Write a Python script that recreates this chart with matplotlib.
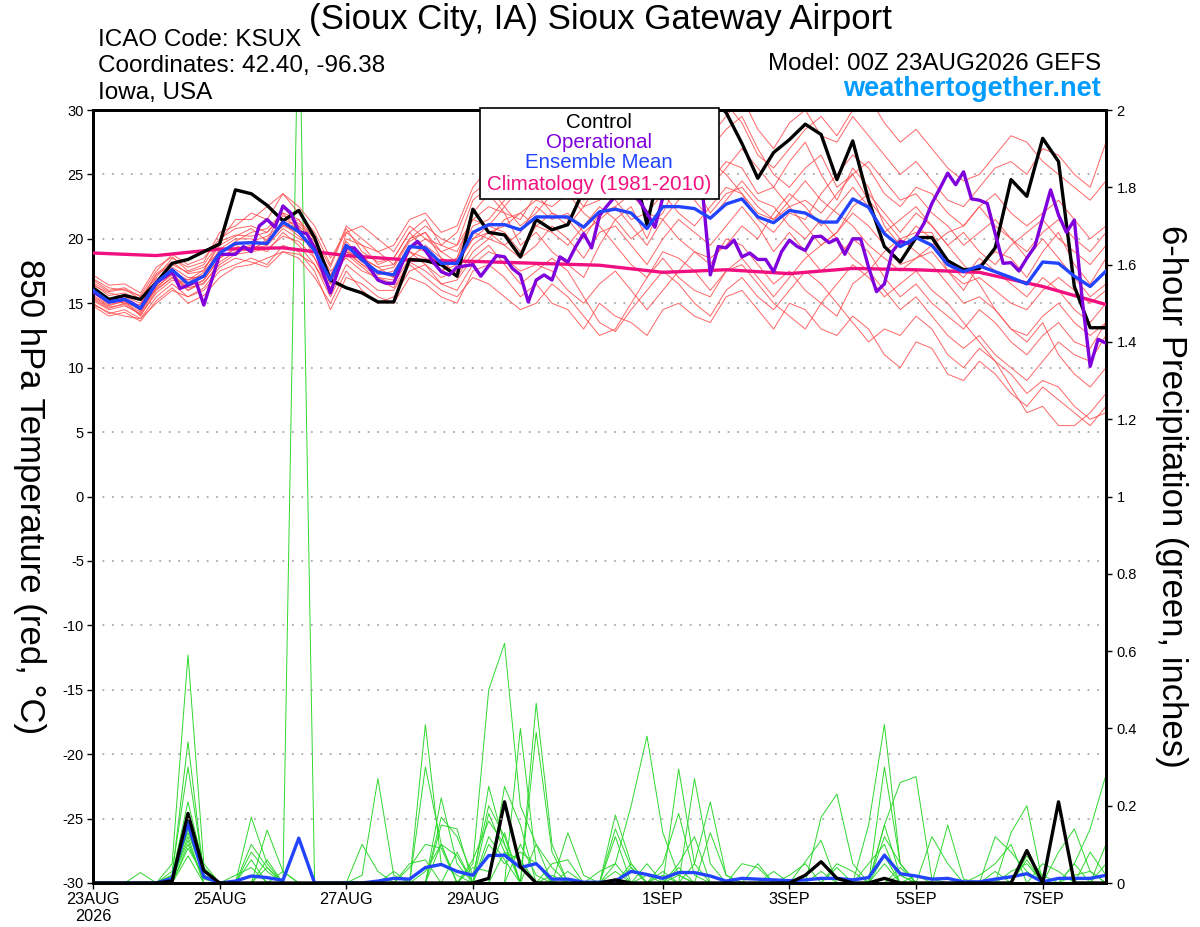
import numpy as np
import matplotlib
matplotlib.use("Agg")
import matplotlib.pyplot as plt
from matplotlib.patches import Rectangle

plt.rcParams['font.family'] = ['Liberation Sans', 'DejaVu Sans']
plt.rcParams['axes.unicode_minus'] = False

# ---------------- DATA ----------------
xtick_hours = [0, 48, 96, 144, 216, 264, 312, 360]
xtick_labels = ["23AUG\n2026", "25AUG", "27AUG", "29AUG", "1SEP", "3SEP", "5SEP", "7SEP"]

# 850 hPa temperature (C), 6-hourly
control_t = [16.2, 15.3, 15.6, 15.3, 16.6, 18.1, 18.4, 19.0, 19.6, 23.8,
             23.5, 22.6, 21.4, 22.2, 20.1, 16.8, 16.2, 15.8, 15.1, 15.1,
             18.4, 18.3, 18.0, 17.1, 22.3, 20.5, 20.3, 18.6, 21.5, 20.7,
             21.1, 23.8, 25.5, 26.0, 26.3, 21.1, 26.5, 28.5, 30.5, 31.0,
             29.8, 27.4, 24.7, 26.7, 27.7, 28.9, 28.1, 24.6, 27.6, 23.0,
             19.4, 18.2, 20.1, 20.1, 18.3, 17.6, 17.7, 19.3, 24.6, 23.3,
             27.8, 26.0, 16.3, 13.1, 13.1]

mean_t = [16.0, 15.1, 15.3, 14.6, 16.6, 17.6, 16.5, 17.1, 18.9, 19.65,
          19.7, 19.65, 21.3, 20.55, 19.1, 16.8, 19.5, 18.35, 17.4, 17.2,
          19.4, 19.3, 18.1, 18.1, 20.5, 21.1, 21.1, 20.7, 21.7, 21.7,
          21.7, 20.9, 22.1, 22.3, 22.0, 20.8, 22.5, 22.5, 22.35, 21.6,
          22.7, 23.1, 21.7, 21.25, 22.2, 22.0, 21.3, 21.3, 23.1, 22.45,
          20.4, 19.4, 20.1, 19.5, 18.0, 17.45, 17.9, 17.45, 17.0, 16.5,
          18.2, 18.1, 17.1, 16.3, 17.5]

# operational run, 3-hourly
oper_t = [15.9, 15.5, 15.1, 15.2, 15.3, 15.0, 14.6, 15.6, 16.6, 17.0,
          17.45, 16.15, 16.4, 16.7, 14.86, 16.8, 18.8, 18.8, 18.8, 19.4,
          19.0, 21.0, 21.5, 20.9, 22.55, 22.0, 20.55, 20.4, 19.3, 17.5,
          15.8, 17.6, 19.3, 19.3, 18.6, 17.7, 16.8, 16.55, 16.55, 18.0,
          19.3, 19.8, 19.1, 18.2, 17.45, 17.2, 17.8, 17.9, 18.0, 17.1,
          17.9, 18.7, 18.6, 17.7, 17.2, 15.1, 16.8, 17.2, 16.8, 18.6,
          18.2, 19.4, 20.4, 19.3, 21.8, 22.6, 23.3, 23.8, 23.5, 23.0,
          22.0, 20.9, 23.2, 23.8, 24.2, 23.6, 24.3, 23.8, 17.2, 19.4,
          19.3, 19.9, 18.6, 18.9, 18.4, 18.4, 17.45, 19.0, 19.9, 19.4,
          19.1, 20.16, 20.2, 19.7, 20.0, 18.8, 20.0, 20.0, 17.8, 15.9,
          16.5, 19.0, 19.8, 19.65, 20.16, 21.2, 22.75, 23.9, 25.1, 24.2,
          25.2, 23.1, 23.0, 22.75, 20.4, 18.1, 18.15, 17.5, 18.5, 19.4,
          21.6, 23.8, 21.85, 20.5, 21.46, 15.25, 10.1, 12.2, 11.9]

# climatology (1981-2010), daily
clim_t = [18.9, 18.7, 19.2, 19.3, 18.7, 18.35, 18.25, 18.1, 17.95, 17.4,
          17.6, 17.3, 17.7, 17.6, 17.4, 16.3, 14.9]

member_a = [16.8, 16.0, 16.2, 15.5, 17.0, 18.5, 17.8, 18.2, 20.5, 21.0,
            22.0, 21.5, 23.5, 22.0, 20.5, 18.0, 21.0, 20.0, 19.0, 19.5,
            21.5, 22.0, 20.5, 21.0, 24.0, 25.5, 24.0, 23.0, 25.0, 26.0,
            27.0, 25.5, 26.5, 28.0, 27.0, 25.0, 27.5, 29.0, 30.5, 28.0,
            29.5, 31.0, 28.5, 27.0, 29.0, 30.0, 28.0, 27.5, 29.5, 28.0,
            26.5, 25.0, 26.0, 24.5, 23.0, 22.5, 24.0, 25.5, 26.0, 25.0,
            27.0, 26.5, 25.0, 24.0, 27.5]
member_b = [15.0, 14.2, 14.5, 13.8, 15.5, 16.5, 15.5, 16.0, 17.5, 18.0,
            18.5, 18.0, 19.5, 19.0, 17.5, 14.5, 17.0, 16.5, 15.5, 15.0,
            17.0, 16.5, 15.5, 15.0, 17.5, 18.0, 17.0, 15.5, 16.5, 15.0,
            14.5, 13.0, 15.0, 14.0, 13.5, 12.5, 14.5, 15.0, 14.0, 13.5,
            15.5, 16.0, 14.5, 13.0, 15.0, 14.5, 13.0, 12.5, 14.0, 13.0,
            11.0, 10.0, 12.0, 11.5, 9.5, 9.0, 10.5, 9.5, 8.0, 7.0,
            8.5, 7.5, 6.5, 5.5, 7.0]
member_c = [16.2, 15.4, 15.0, 14.9, 16.9, 17.2, 16.8, 17.6, 19.5, 20.2,
            20.8, 19.8, 22.5, 21.0, 18.5, 15.8, 20.5, 19.5, 18.0, 18.5,
            20.5, 19.0, 17.5, 18.5, 22.0, 23.5, 22.0, 19.5, 20.5, 19.0,
            18.0, 17.0, 19.5, 21.5, 22.5, 20.0, 23.0, 25.0, 26.5, 24.0,
            25.5, 27.0, 25.5, 24.0, 26.0, 27.5, 25.0, 23.0, 25.5, 24.0,
            21.0, 19.5, 21.0, 20.0, 17.5, 16.0, 18.0, 19.0, 18.5, 17.0,
            19.0, 20.5, 18.0, 16.5, 18.5]
member_d = [15.5, 14.8, 15.2, 14.0, 16.0, 17.0, 16.2, 16.5, 18.2, 19.0,
            19.2, 19.5, 20.8, 20.0, 19.5, 17.5, 18.5, 17.5, 17.0, 16.5,
            18.5, 19.5, 18.5, 17.0, 19.0, 20.0, 21.5, 22.0, 23.0, 22.5,
            23.5, 22.0, 21.0, 19.5, 18.0, 17.0, 19.0, 18.5, 17.5, 16.0,
            17.5, 18.5, 17.0, 15.5, 17.0, 18.5, 19.5, 20.5, 22.5, 23.5,
            22.0, 20.5, 22.0, 21.0, 19.5, 18.0, 16.5, 14.5, 13.0, 12.0,
            13.5, 11.0, 9.5, 8.5, 10.0]
member_e = [16.5, 15.6, 15.8, 15.2, 17.2, 18.0, 17.4, 17.8, 19.0, 19.5,
            19.0, 20.0, 21.0, 21.5, 20.0, 17.0, 19.0, 18.0, 17.5, 17.8,
            19.8, 20.5, 19.0, 19.5, 21.5, 21.0, 22.5, 24.0, 25.0, 24.0,
            25.5, 26.5, 27.0, 26.0, 24.5, 23.0, 25.5, 26.5, 25.0, 24.5,
            26.0, 25.5, 23.5, 24.0, 22.5, 21.0, 19.5, 20.5, 22.0, 21.0,
            19.5, 18.0, 18.5, 19.5, 20.5, 21.0, 22.5, 23.5, 22.0, 21.0,
            22.0, 23.0, 21.5, 20.0, 21.0]
member_f = [14.8, 14.0, 14.3, 13.6, 15.2, 16.2, 15.0, 15.6, 17.0, 17.8,
            18.0, 18.5, 19.0, 18.5, 17.0, 15.0, 17.5, 16.0, 15.0, 15.5,
            17.5, 18.0, 16.5, 16.0, 18.0, 19.0, 18.5, 17.5, 18.0, 17.5,
            16.0, 15.0, 16.5, 17.5, 16.0, 14.5, 16.0, 17.5, 19.0, 18.0,
            20.0, 19.5, 18.0, 16.5, 17.5, 16.0, 15.0, 14.0, 16.5, 17.5,
            16.0, 14.5, 15.5, 14.0, 12.5, 11.5, 12.5, 11.0, 10.0, 9.0,
            10.5, 12.0, 11.0, 10.5, 12.5]
member_g = [16.9, 16.2, 16.0, 15.6, 17.5, 18.8, 18.0, 18.5, 20.0, 20.8,
            21.0, 20.5, 22.0, 21.5, 19.5, 16.5, 20.0, 19.5, 19.0, 18.0,
            20.0, 21.0, 20.0, 19.5, 23.0, 24.0, 22.5, 21.0, 22.0, 23.5,
            24.5, 23.0, 24.0, 25.5, 26.5, 24.5, 26.0, 27.5, 28.5, 27.0,
            28.5, 29.5, 27.0, 25.0, 24.0, 25.5, 26.5, 24.0, 25.0, 26.0,
            24.5, 23.0, 23.5, 22.0, 21.0, 19.5, 20.5, 21.5, 20.0, 18.5,
            20.0, 18.5, 17.0, 15.5, 16.5]
member_h = [15.2, 14.5, 14.8, 14.2, 16.2, 17.3, 16.0, 16.8, 18.5, 19.2,
            19.5, 19.0, 20.5, 19.5, 18.0, 16.0, 19.0, 18.5, 17.8, 17.0,
            19.0, 18.0, 17.0, 17.5, 19.5, 20.5, 19.5, 18.5, 19.5, 21.0,
            20.0, 18.5, 20.5, 21.0, 19.5, 18.0, 20.0, 21.5, 20.5, 19.5,
            21.0, 22.5, 21.0, 19.0, 20.5, 19.0, 17.5, 18.5, 20.0, 19.0,
            17.0, 15.5, 16.5, 15.0, 14.0, 13.0, 14.5, 13.5, 12.0, 11.0,
            12.5, 13.5, 12.0, 11.5, 13.5]
member_i = [16.4, 15.8, 15.5, 15.0, 16.5, 17.8, 17.0, 17.0, 18.8, 19.8,
            20.5, 20.8, 22.0, 20.5, 19.0, 16.8, 19.5, 18.8, 17.2, 17.5,
            19.5, 19.0, 18.0, 18.5, 21.0, 21.5, 23.0, 24.5, 23.5, 22.0,
            21.0, 22.5, 24.5, 23.0, 21.5, 22.0, 23.5, 22.0, 21.0, 22.5,
            24.0, 23.5, 22.0, 21.5, 23.0, 24.5, 23.0, 22.0, 21.0, 19.5,
            18.5, 17.5, 18.5, 19.0, 17.5, 16.5, 17.0, 16.0, 15.0, 14.5,
            16.0, 17.0, 16.0, 15.0, 16.0]
member_j = [15.8, 15.0, 15.4, 14.4, 16.4, 17.5, 16.8, 17.2, 19.2, 20.0,
            20.0, 19.5, 21.5, 21.0, 19.8, 17.2, 19.8, 18.5, 17.8, 18.0,
            20.0, 20.5, 18.5, 18.0, 20.5, 20.0, 19.5, 20.5, 22.5, 21.5,
            22.0, 20.5, 21.5, 22.5, 23.5, 22.0, 21.5, 20.0, 19.0, 18.5,
            19.5, 21.0, 20.0, 22.0, 23.5, 22.5, 21.0, 22.5, 24.0, 22.5,
            20.5, 21.5, 22.5, 21.0, 19.5, 20.5, 19.0, 18.0, 19.5, 20.5,
            21.5, 20.0, 19.0, 18.0, 19.5]
member_k = [15.3, 14.6, 15.0, 14.3, 16.3, 17.2, 16.3, 16.8, 18.5, 19.3,
            19.2, 19.8, 21.0, 20.5, 19.0, 16.5, 19.0, 18.0, 17.0, 16.8,
            19.0, 18.5, 17.5, 18.0, 20.0, 21.0, 20.5, 19.0, 21.0, 22.0,
            21.5, 20.0, 22.0, 22.5, 21.0, 19.5, 21.5, 23.0, 24.0, 22.0,
            23.5, 24.0, 22.5, 21.5, 22.5, 23.0, 22.0, 23.5, 25.0, 23.0,
            21.5, 20.0, 20.5, 20.5, 18.0, 17.0, 18.5, 17.5, 16.5, 15.5,
            17.0, 16.0, 14.5, 13.5, 15.0]
member_l = [15.6, 14.9, 15.1, 14.5, 16.1, 17.0, 16.0, 16.6, 18.0, 18.8,
            19.0, 19.2, 20.2, 19.8, 18.5, 16.2, 18.8, 17.8, 16.8, 16.2,
            18.2, 17.5, 16.5, 16.8, 18.5, 19.5, 18.0, 16.5, 17.5, 18.5,
            17.5, 15.5, 13.5, 12.8, 14.5, 16.0, 17.5, 16.5, 15.0, 14.0,
            16.0, 17.0, 15.5, 14.5, 16.0, 17.5, 16.5, 15.0, 13.5, 12.0,
            13.0, 12.5, 14.0, 13.0, 11.0, 10.0, 11.5, 10.5, 8.5, 6.5,
            7.0, 5.5, 5.5, 6.5, 8.0]
member_m = [17.2, 16.4, 16.5, 15.8, 17.8, 18.6, 17.5, 18.0, 19.8, 21.5,
            21.5, 22.5, 23.5, 22.5, 21.0, 18.5, 20.5, 21.0, 20.0, 19.0,
            21.0, 20.0, 19.5, 20.5, 23.5, 24.5, 25.5, 26.5, 27.5, 26.0,
            28.0, 27.5, 28.5, 29.5, 28.0, 26.5, 28.5, 30.5, 31.0, 29.5,
            30.5, 29.0, 26.5, 25.5, 27.0, 28.5, 29.5, 28.0, 30.0, 31.0,
            29.0, 27.5, 28.5, 27.0, 25.5, 24.5, 25.0, 26.5, 28.0, 27.5,
            26.0, 25.0, 24.0, 23.0, 24.5]
member_n = [14.9, 14.3, 14.0, 13.8, 15.0, 16.0, 15.5, 16.2, 17.8, 18.5,
            18.2, 17.8, 19.0, 18.8, 18.0, 15.5, 18.0, 17.0, 16.0, 16.0,
            18.0, 17.0, 16.0, 15.5, 17.0, 16.5, 15.5, 14.5, 15.0, 16.5,
            15.5, 14.0, 12.5, 13.0, 15.0, 17.0, 18.5, 17.0, 16.0, 15.5,
            17.5, 18.0, 16.5, 15.0, 14.0, 13.0, 15.0, 16.5, 18.0, 17.0,
            15.5, 16.5, 17.5, 16.0, 15.0, 13.5, 12.0, 10.5, 9.5, 8.0,
            9.0, 8.5, 7.0, 6.0, 6.5]
member_o = [16.6, 15.9, 16.1, 15.3, 17.3, 18.2, 17.3, 17.5, 19.8, 20.3,
            20.2, 20.5, 21.8, 21.2, 20.0, 17.8, 20.8, 19.0, 18.2, 18.5,
            20.5, 21.5, 19.5, 19.0, 21.5, 22.5, 22.0, 21.5, 23.5, 25.0,
            24.0, 22.5, 23.0, 24.5, 25.5, 24.0, 25.0, 24.0, 23.0, 21.5,
            23.0, 24.5, 23.0, 22.5, 21.0, 20.0, 21.5, 20.0, 18.5, 17.5,
            19.0, 20.0, 19.0, 18.0, 16.5, 15.0, 15.5, 14.5, 13.0, 12.5,
            14.0, 15.0, 13.5, 12.5, 13.5]
member_p = [15.4, 14.7, 14.9, 14.1, 15.8, 16.8, 16.6, 17.4, 19.0, 19.6,
            19.8, 20.2, 21.2, 20.2, 19.2, 17.0, 19.2, 18.2, 17.5, 17.0,
            19.2, 20.0, 19.0, 18.2, 20.0, 20.5, 21.0, 22.0, 21.0, 20.5,
            19.5, 21.0, 22.5, 21.5, 20.0, 21.0, 22.0, 24.5, 25.5, 26.0,
            25.0, 23.5, 21.5, 20.5, 22.0, 21.5, 23.5, 25.0, 26.5, 25.5,
            23.5, 22.5, 24.0, 23.5, 22.0, 21.0, 22.5, 21.0, 20.0, 19.0,
            20.5, 21.5, 20.0, 19.0, 20.5]
temp_members = [member_a, member_b, member_c, member_d, member_e, member_f,
                member_g, member_h, member_i, member_j, member_k, member_l,
                member_m, member_n, member_o, member_p]

# 6-hour precipitation (inches)
control_p = [0, 0, 0, 0, 0, .005, .18, .032, 0, 0,
             0, 0, 0, 0, 0, 0, 0, 0, 0, 0,
             0, 0, 0, 0, 0, .012, .21, .042, 0, 0,
             0, 0, 0, .008, 0, 0, 0, 0, 0, 0,
             0, 0, 0, 0, 0, .02, .055, .012, 0, 0,
             .012, 0, 0, 0, 0, 0, 0, 0, 0, .084,
             0, .21, 0, 0, 0]
mean_p = [0, 0, 0, 0, 0, .012, .155, .016, 0, .005,
          .018, .014, .007, .116, 0, 0, 0, 0, .005, .012,
          .01, .04, .048, .03, .02, .071, .072, .04, .05, .01,
          .01, .002, .002, .005, .03, .022, .012, .027, .027, .018,
          .005, .012, .01, .008, .006, .008, .012, .012, .008, .014,
          .072, .024, .018, .01, .012, .003, .003, .01, .016, .024,
          .003, .012, .012, .012, .02]

precip_g1 = [0, 0, 0, 0, 0, .05, .59, .05, 0, 0,
             0, 0, 0, 0, 0, 0, 0, .02, .27, .02,
             0, 0, 0, 0, .05, .5, .62, .2, .1, 0,
             0, 0, 0, .05, .2, .38, .13, .02, 0, 0,
             0, 0, 0, 0, 0, 0, 0, 0, 0, .15,
             .41, .05, 0, 0, 0, 0, 0, 0, 0, 0,
             0, 0, .05, .14, .28]
precip_g2 = [0, 0, 0, 0, 0, .02, .365, .02, 0, 0,
             .17, .05, 0, 0, 0, 0, 0, 0, 0, 0,
             0, .41, .05, .02, 0, 0, 0, .4, .05, 0,
             0, 0, 0, 0, 0, 0, 0, .295, .05, .21,
             .02, 0, 0, 0, 0, 0, 0, 0, 0, 0,
             .15, .26, .275, .01, 0, 0, 0, 0, .13, .2,
             0, 0, 0, 0, 0]
precip_g3 = [0, 0, 0, 0, 0, .03, .3, .03, 0, 0,
             0, 0, 0, 2.35, 0, 0, 0, 0, 0, 0,
             0, .3, .1, 0, 0, 0, .25, .15, 0, 0,
             0, 0, 0, 0, 0, 0, 0, 0, .27, .05,
             0, 0, 0, 0, 0, 0, .17, .23, .05, 0,
             .3, .05, 0, .12, .05, 0, 0, 0, 0, 0,
             0, 0, 0, 0, 0]
precip_g4 = [0, 0, 0, 0, 0, .02, .21, .04, 0, 0,
             0, .137, .03, 0, 0, 0, 0, 0, 0, 0,
             0, 0, .22, .05, 0, .25, .1, 0, .465, .1,
             0, 0, 0, .176, .05, 0, .05, .18, .02, 0,
             0, 0, 0, 0, 0, 0, 0, 0, 0, 0,
             .15, .02, 0, 0, 0, 0, 0, .12, .08, .03,
             0, .08, .14, .03, 0]
precip_g5 = [0, 0, 0, 0, 0, 0, .16, .03, 0, 0,
             .06, 0, 0, 0, 0, 0, 0, 0, 0, 0,
             0, 0, .17, .12, .02, .2, .12, 0, .39, .08,
             0, 0, 0, .14, .04, 0, 0, 0, 0, .13,
             .02, 0, 0, 0, 0, .055, .11, 0, 0, 0,
             0, 0, 0, 0, .15, .01, 0, 0, 0, .08,
             0, 0, 0, 0, .1]
precip_g6 = [0, 0, 0, 0, 0, 0, .14, .02, 0, 0,
             .08, .03, 0, 0, 0, 0, 0, .1, .03, 0,
             0, 0, .15, .14, 0, .18, .08, .06, 0, 0,
             .13, .02, 0, .12, 0, .05, 0, .05, .12, 0,
             0, 0, .05, 0, 0, 0, 0, 0, 0, .05,
             .1, 0, 0, 0, 0, 0, .02, .05, .1, 0,
             0, 0, 0, 0, 0]
precip_g7 = [0, 0, 0, .027, 0, .02, .13, .02, 0, 0,
             0, 0, .03, 0, 0, 0, 0, 0, 0, 0,
             .05, .06, 0, 0, .06, .16, .1, 0, 0, .05,
             .06, 0, 0, 0, .05, 0, .03, 0, 0, 0,
             0, .05, .04, 0, 0, 0, 0, .05, .03, 0,
             .05, 0, 0, 0, 0, 0, 0, 0, 0, 0,
             .05, .03, 0, 0, 0]
precip_g8 = [0, 0, 0, 0, 0, .01, .11, 0, 0, 0,
             .1, .04, 0, 0, 0, 0, 0, 0, 0, 0,
             .04, .1, .09, 0, 0, .12, .06, 0, .1, .04,
             0, 0, .03, .05, 0, 0, 0, .04, 0, 0,
             0, 0, 0, .03, 0, 0, 0, 0, 0, 0,
             .12, .05, 0, 0, 0, 0, 0, 0, 0, .07,
             .02, 0, 0, .08, .02]
precip_g9 = [0, 0, 0, 0, 0, 0, .1, .01, 0, .02,
             .04, 0, 0, 0, 0, 0, 0, 0, 0, .03,
             0, 0, 0, .08, 0, .1, .05, .08, .05, 0,
             0, 0, 0, 0, .04, 0, 0, 0, .05, 0,
             0, 0, 0, 0, 0, 0, 0, 0, 0, 0,
             0, .04, 0, 0, 0, 0, 0, .03, 0, 0,
             0, 0, .05, 0, .05]
precip_g10 = [0, 0, 0, 0, 0, 0, .09, .02, 0, 0,
              0, .06, 0, 0, 0, 0, 0, 0, 0, 0,
              0, 0, .1, .07, 0, 0, .08, .04, 0, 0,
              .03, 0, 0, 0, 0, 0, .02, 0, 0, 0,
              0, 0, 0, 0, 0, 0, .03, 0, 0, 0,
              .07, 0, 0, 0, 0, 0, 0, 0, .03, .05,
              0, 0, 0, 0, 0]
precip_g11 = [0, 0, 0, 0, 0, 0, .07, 0, 0, 0,
              0, .04, 0, 0, 0, 0, 0, 0, 0, 0,
              0, 0, 0, 0, .04, .03, .13, 0, 0, .02,
              0, 0, 0, .03, 0, 0, 0, .02, 0, 0,
              0, 0, 0, 0, .02, .05, 0, 0, 0, 0,
              0, .02, 0, 0, 0, 0, 0, 0, 0, 0,
              0, 0, .02, .03, 0]
precip_g12 = [0, 0, 0, 0, 0, .01, .12, 0, 0, 0,
              0, 0, 0, 0, 0, 0, 0, 0, 0, 0,
              0, .03, .1, 0, 0, 0, 0, .1, .02, 0,
              0, 0, 0, 0, 0, .02, 0, 0, 0, 0,
              0, 0, 0, 0, 0, 0, 0, .04, 0, 0,
              0, 0, .02, 0, 0, 0, 0, 0, 0, .06,
              0, 0, 0, 0, 0]
precip_members = [precip_g1, precip_g2, precip_g3, precip_g4, precip_g5, precip_g6,
                  precip_g7, precip_g8, precip_g9, precip_g10, precip_g11, precip_g12]

# ---------------- STYLE ----------------
C_CONTROL = '#000000'
C_OPER = '#8000dc'
C_MEAN = '#2244ff'
C_CLIM = '#f0107f'
C_RED = '#ff4a4a'
C_GREEN = '#2ed82e'

def hrs(series, step):
    return np.arange(len(series)) * step

fig = plt.figure(figsize=(12, 9.27), dpi=100)
L, R, T, B = 93, 1106, 110, 883
ax = fig.add_axes([L / 1200, 1 - B / 927, (R - L) / 1200, (B - T) / 927])
ax2 = ax.twinx()
ax.set_zorder(ax2.get_zorder() + 1)
ax.patch.set_visible(False)

# precipitation (right axis)
for m in precip_members:
    ax2.plot(hrs(m, 6), m, color=C_GREEN, lw=0.7, zorder=1)
ax2.plot(hrs(mean_p, 6), mean_p, color=C_MEAN, lw=2.4, zorder=3)
ax2.plot(hrs(control_p, 6), control_p, color=C_CONTROL, lw=2.4, zorder=4)
ax2.set_ylim(0, 2)
ax2.set_yticks(np.arange(0, 2.01, 0.2))
ax2.set_yticklabels(['%g' % round(v, 1) for v in np.arange(0, 2.01, 0.2)])

# temperature (left axis)
for m in temp_members:
    ax.plot(hrs(m, 6), m, color=C_RED, lw=0.7, alpha=0.85, zorder=2)
ax.plot(hrs(clim_t, 24), clim_t, color=C_CLIM, lw=2.4, zorder=5)
ax.plot(hrs(control_t, 6), control_t, color=C_CONTROL, lw=2.4, zorder=6)
ax.plot(hrs(oper_t, 3), oper_t, color=C_OPER, lw=2.4, zorder=7)
ax.plot(hrs(mean_t, 6), mean_t, color=C_MEAN, lw=2.4, zorder=8)

ax.set_xlim(0, 384)
ax.set_ylim(-30, 30)
ax.set_yticks(np.arange(-30, 31, 5))
ax.set_xticks(xtick_hours)
ax.set_xticklabels(xtick_labels)
ax.yaxis.grid(True, linestyle=(0, (1.2, 5)), color='#9a9a9a', lw=1.1)
ax.set_axisbelow(True)

for a in (ax, ax2):
    for s in a.spines.values():
        s.set_linewidth(2.0)
ax.tick_params(axis='y', direction='out', length=4.5, width=1, labelsize=10.5, pad=2)
ax.tick_params(axis='x', direction='out', length=4.5, width=1, labelsize=11.7, pad=2)
ax2.tick_params(axis='y', direction='out', length=4.5, width=1, labelsize=10.5, pad=3)

ax.set_ylabel("850 hPa Temperature (red, °C)", fontsize=25, rotation=270,
              va='center', ha='center')
ax.yaxis.set_label_coords(-0.063, 0.5)
ax2.set_ylabel("6-hour Precipitation (green, inches)", fontsize=25, rotation=270,
               va='center', ha='center')
ax2.yaxis.set_label_coords(1.065, 0.5)

# header texts
fig.text(600 / 1200, 1 - 19 / 927, "(Sioux City, IA) Sioux Gateway Airport",
         fontsize=25, ha='center', va='center')
fig.text(98 / 1200, 1 - 40 / 927, "ICAO Code: KSUX", fontsize=17.5, ha='left', va='center')
fig.text(98 / 1200, 1 - 66 / 927, "Coordinates: 42.40, -96.38", fontsize=17.5, ha='left', va='center')
fig.text(98 / 1200, 1 - 93 / 927, "Iowa, USA", fontsize=17.5, ha='left', va='center')
fig.text(1101 / 1200, 1 - 64 / 927, "Model: 00Z 23AUG2026 GEFS", fontsize=17.4, ha='right', va='center')
fig.text(1101 / 1200, 1 - 89 / 927, "weathertogether.net", fontsize=19.5, fontweight='bold',
         color='#009cff', ha='right', va='center')

# legend box
fig.patches.append(Rectangle((480 / 1200, 1 - 199 / 927), 239 / 1200, 91 / 927,
                             transform=fig.transFigure, facecolor='white',
                             edgecolor='black', lw=1.2, zorder=10))
leg_items = [("Control", C_CONTROL, 122), ("Operational", C_OPER, 142),
             ("Ensemble Mean", C_MEAN, 163), ("Climatology (1981-2010)", C_CLIM, 185)]
for txt, col, ypx in leg_items:
    fig.text(599 / 1200, 1 - ypx / 927, txt, color=col, fontsize=14.8, ha='center',
             va='center', zorder=11)

fig.savefig("out.png", dpi=100)
